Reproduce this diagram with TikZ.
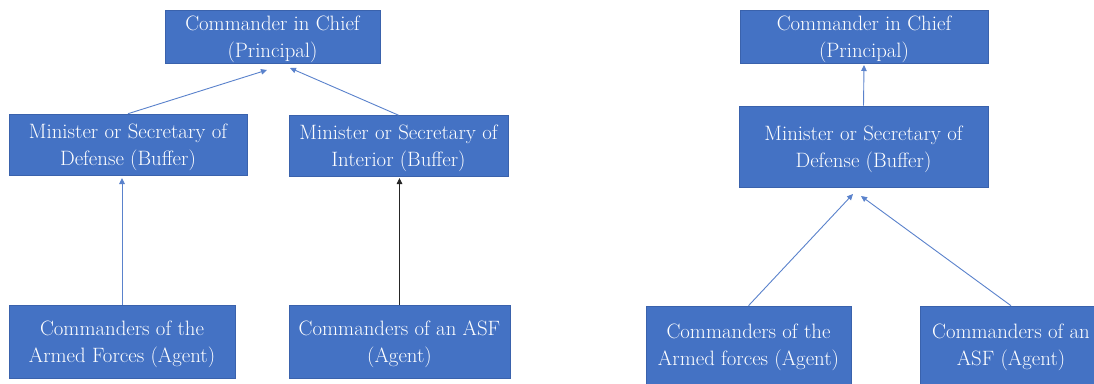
\documentclass[tikz,border=0pt]{standalone}
\usetikzlibrary{arrows.meta}
\definecolor{boxblue}{HTML}{4472C4}
\definecolor{boxedge}{HTML}{3A62AC}
\definecolor{linkblue}{HTML}{5A82CC}
\begin{document}
\begin{tikzpicture}[x=1pt,y=-1pt,
  rolebox/.style={draw=boxedge,line width=0.6pt,fill=boxblue,text=white,
    align=center,inner sep=0pt,text depth=0pt,
    font=\fontsize{20.8}{27}\selectfont},
  link/.style={draw=linkblue,line width=0.9pt,
    -{Triangle[length=6pt,width=5.5pt]}},
  darklink/.style={draw=black!85,line width=0.9pt,
    -{Triangle[length=6pt,width=5.5pt]}}]
\clip (0,0) rectangle (1094,383);
\fill[white] (0,0) rectangle (1094,383);

% ---- chain with two buffers ----
\node[rolebox,minimum width=215pt,minimum height=53pt] (cicA) at (272.5,36.5)
  {Commander in Chief\\(Principal)};
\node[rolebox,minimum width=238pt,minimum height=61pt] (defA) at (128,144.5)
  {Minister or Secretary of\\Defense (Buffer)};
\node[rolebox,minimum width=219pt,minimum height=61pt] (intA) at (398.5,146)
  {Minister or Secretary of\\Interior (Buffer)};
\node[rolebox,minimum width=226pt,minimum height=73pt] (afA) at (122,341.5)
  {Commanders of the\\Armed Forces (Agent)};
\node[rolebox,minimum width=221pt,minimum height=73pt] (asfA) at (399.5,341.5)
  {Commanders of an ASF\\(Agent)};

\coordinate (cicAin1) at (267,70);
\coordinate (cicAin2) at (290,68);
\coordinate (defAin) at (122,178);
\coordinate (intAin) at (399.5,178);

\draw[link] (defA.north) -- (cicAin1);
\draw[link] (intA.north) -- (cicAin2);
\draw[link] (afA.north) -- (defAin);
\draw[darklink] (asfA.north) -- (intAin);

% ---- chain with one buffer ----
\node[rolebox,minimum width=248pt,minimum height=53pt] (cicB) at (864,36.5)
  {Commander in Chief\\(Principal)};
\node[rolebox,minimum width=249pt,minimum height=81pt] (defB) at (863.5,146.5)
  {Minister or Secretary of\\Defense (Buffer)};
\node[rolebox,minimum width=205pt,minimum height=78pt] (afB) at (748.5,345)
  {Commanders of the\\Armed forces (Agent)};
\node[rolebox,minimum width=182pt,minimum height=78pt] (asfB) at (1011,345)
  {Commanders of an\\ASF (Agent)};

\coordinate (cicBin) at (864,65);
\coordinate (defBin1) at (853,194);
\coordinate (defBin2) at (861,196);

\draw[link] (defB.north) -- (cicBin);
\draw[link] (afB.north) -- (defBin1);
\draw[link] (asfB.north) -- (defBin2);
\end{tikzpicture}
\end{document}
